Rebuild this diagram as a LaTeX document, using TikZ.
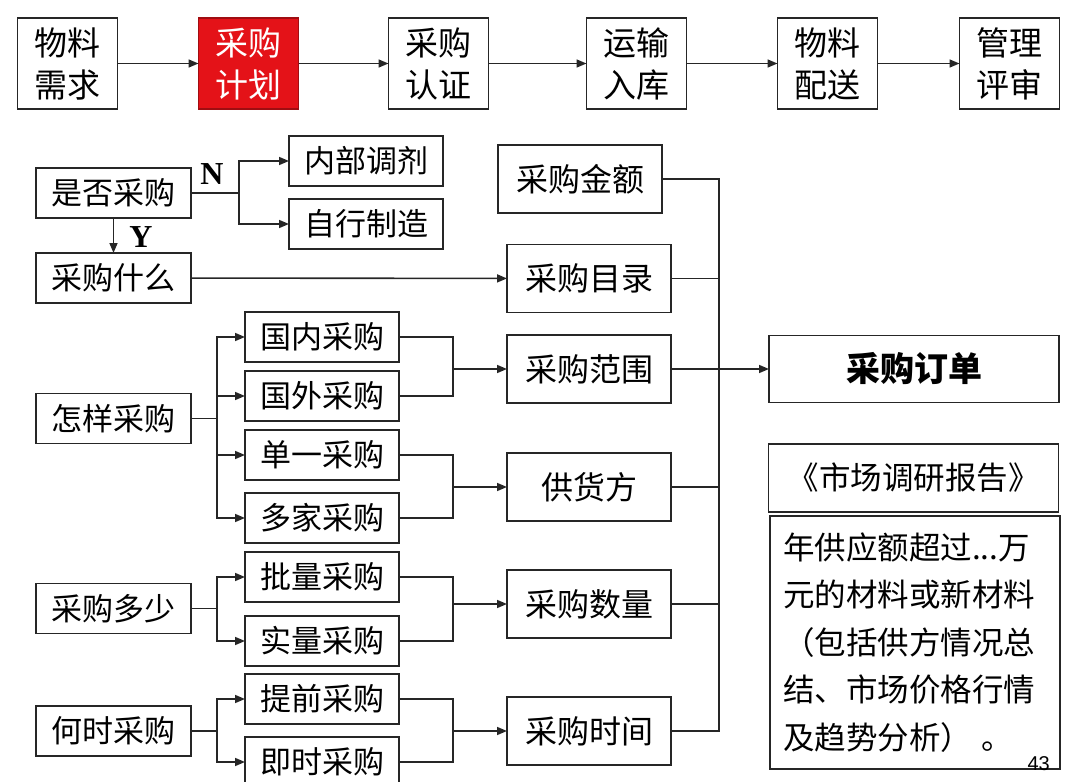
\documentclass[tikz,border=0pt]{standalone}
\usepackage{fontspec}
\usepackage{tikz}
\usetikzlibrary{arrows.meta, positioning, calc}
\newfontfamily\cjk{Noto Sans CJK SC}
\newfontfamily\serifbold{Liberation Serif}
\newfontfamily\numfont{Liberation Sans}
\definecolor{planred}{RGB}{228,18,24}

\begin{document}
\begin{tikzpicture}[
  x=1pt, y=-1pt,
  base/.style={draw=black!85, line width=1.6pt, inner sep=0pt, outer sep=0pt, align=center},
  stage/.style={base, minimum width=100pt, minimum height=91pt, font=\cjk\fontsize{33}{42}\selectfont},
  ask/.style={base, minimum width=155pt, minimum height=50pt, font=\cjk\fontsize{31}{38}\selectfont},
  way/.style={base, minimum width=154pt, minimum height=50pt, font=\cjk\fontsize{31}{38}\selectfont},
  item/.style={base, minimum width=164pt, minimum height=68pt, font=\cjk\fontsize{32}{38}\selectfont},
  wide/.style={base, minimum width=290pt, minimum height=67pt},
  line/.style={line width=1.6pt, draw=black!85},
  arr/.style={line, -{Triangle[length=10pt, width=8pt]}},
  yn/.style={font=\serifbold\bfseries\fontsize{32}{32}\selectfont}
]
  \useasboundingbox (0,0) rectangle (1080,782);

  % stages along the top
  \node[stage] (need) at (67.5,63.5) {物料\\需求};
  \node[stage, fill=planred, draw=planred!70!black, text=white, right=81pt of need] (plan) {采购\\计划};
  \node[stage, right=90pt of plan] (cert) {采购\\认证};
  \node[stage, right=98pt of cert] (store) {运输\\入库};
  \node[stage, right=91pt of store] (deliver) {物料\\配送};
  \node[stage, right=82pt of deliver] (review) {管理\\评审};

  % questions
  \node[ask] (whether) at (113.5,193) {是否采购};
  \node[ask, below=35pt of whether] (what) {采购什么};
  \node[ask] (how) at (113.5,418.5) {怎样采购};
  \node[ask] (much) at (113.5,608.5) {采购多少};
  \node[ask] (when) at (113.5,731) {何时采购};

  % options
  \node[way] (inner) at (366,161) {内部调剂};
  \node[way, below=13pt of inner] (self) {自行制造};
  \node[way] (dom) at (322,337) {国内采购};
  \node[way, below=9pt of dom] (abr) {国外采购};
  \node[way, below=9pt of abr] (single) {单一采购};
  \node[way, below=13pt of single] (multi) {多家采购};
  \node[way, below=9pt of multi] (batch) {批量采购};
  \node[way, below=14pt of batch] (real) {实量采购};
  \node[way, below=8pt of real] (early) {提前采购};
  \node[way, below=13pt of early] (now) {即时采购};

  % order items
  \node[item] (amount) at (580,179) {采购金额};
  \node[item] (catalog) at (589,278.5) {采购目录};
  \node[item] (range) at (589,369) {采购范围};
  \node[item] (supplier) at (589,487) {供货方};
  \node[item] (qty) at (589,604) {采购数量};
  \node[item] (time) at (589,731) {采购时间};

  % right column
  \node[wide, font=\cjk\bfseries\fontsize{34}{40}\selectfont] (order) at (914,369) {采购订单};
  \node[wide, minimum height=68pt, font=\cjk\fontsize{31.5}{38}\selectfont] (report) at (913.5,478) {《市场调研报告》};
  \node[base, minimum width=290pt, minimum height=253pt, text width=264pt, align=left,
        font=\cjk\fontsize{31.5}{47.5}\selectfont] (note) at (915,642.5)
    {年供应额超过...万\\元的材料或新材料\\（包括供方情况总\\结、市场价格行情\\及趋势分析）\hspace{10pt}。};
  \node[anchor=south east, inner sep=0pt, font=\numfont\fontsize{20}{20}\selectfont] (page) at (1050,771) {43};

  \node[yn] (nlab) at (212,174) {N};
  \node[yn] (ylab) at (141,237) {Y};

  \coordinate (nsplit) at (239,193);
  \coordinate (howsplit) at (217,418.5);
  \coordinate (muchsplit) at (217,608.5);
  \coordinate (whensplit) at (217,731);
  \coordinate (m1) at (453,369);
  \coordinate (m2) at (453,487);
  \coordinate (m3) at (453,604);
  \coordinate (m4) at (453,731);
  \coordinate (bustop) at (719,179);
  \coordinate (busbot) at (719,731);

  \draw[arr] (need) -- (plan);
  \draw[arr] (plan) -- (cert);
  \draw[arr] (cert) -- (store);
  \draw[arr] (store) -- (deliver);
  \draw[arr] (deliver) -- (review);

  \draw[line] (whether) -- (nsplit);
  \draw[arr] (nsplit) |- (inner);
  \draw[arr] (nsplit) |- (self);
  \draw[arr] (whether) -- (what);
  \draw[arr] (what) -- (catalog);

  \draw[line] (how) -- (howsplit);
  \draw[arr] (howsplit) |- (dom);
  \draw[arr] (howsplit) |- (abr);
  \draw[arr] (howsplit) |- (single);
  \draw[arr] (howsplit) |- (multi);
  \draw[line] (much) -- (muchsplit);
  \draw[arr] (muchsplit) |- (batch);
  \draw[arr] (muchsplit) |- (real);
  \draw[line] (when) -- (whensplit);
  \draw[arr] (whensplit) |- (early);
  \draw[arr] (whensplit) |- (now);

  \draw[line] (dom) -| (m1);
  \draw[line] (abr) -| (m1);
  \draw[arr] (m1) -- (range);
  \draw[line] (single) -| (m2);
  \draw[line] (multi) -| (m2);
  \draw[arr] (m2) -- (supplier);
  \draw[line] (batch) -| (m3);
  \draw[line] (real) -| (m3);
  \draw[arr] (m3) -- (qty);
  \draw[line] (early) -| (m4);
  \draw[line] (now) -| (m4);
  \draw[arr] (m4) -- (time);

  \draw[line] (amount) -- (bustop) -- (busbot) -- (time);
  \draw[line] (catalog) -- (catalog -| bustop);
  \draw[line] (supplier) -- (supplier -| bustop);
  \draw[line] (qty) -- (qty -| bustop);
  \draw[arr] (range) -- (order);
\end{tikzpicture}
\end{document}
